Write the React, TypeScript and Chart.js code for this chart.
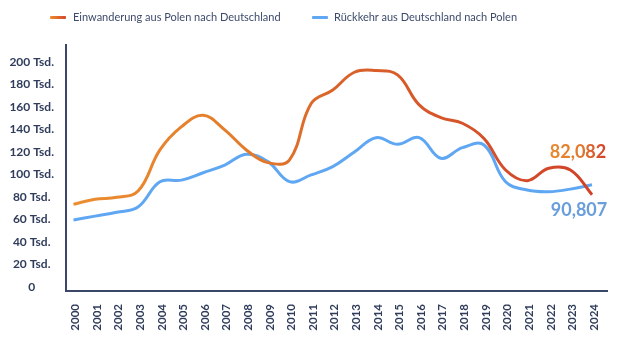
import React, { useEffect, useRef } from 'react';
import { Chart, registerables } from 'chart.js';

Chart.register(...registerables);

// ---- Data (values in thousands) ----
const YEARS = [2000, 2001, 2002, 2003, 2004, 2005, 2006, 2007, 2008, 2009, 2010, 2011, 2012, 2013, 2014, 2015, 2016, 2017, 2018, 2019, 2020, 2021, 2022, 2023, 2024];
const IMMIGRATION = [73.5, 78, 79.7, 85.5, 121.8, 142.5, 152.5, 139.6, 121.8, 110.5, 113, 163, 175, 190.8, 192.3, 188.4, 161.8, 150.5, 145.5, 132, 104, 94.5, 105.5, 104, 82.082];
const RETURN_MIGRATION = [59.6, 63, 66.4, 71.4, 93.6, 95, 101.5, 108.4, 118, 111.4, 93.6, 99.6, 107, 120, 132.7, 126.8, 132.7, 114.4, 123.8, 126.2, 93.6, 86.2, 84.7, 87, 90.807];
const SERIES_NAMES = ['Einwanderung aus Polen nach Deutschland', 'Rückkehr aus Deutschland nach Polen'];
const Y_TICKS = [0, 20, 40, 60, 80, 100, 120, 140, 160, 180, 200];
const Y_UNIT = 'Tsd.';

const FONT = 'Lato, "Open Sans", sans-serif';
const AXIS_TEXT = '#2f3c5c';
const AXIS_LINE = '#3a4768';
const BLUE = '#5fa7f3';
const BLUE_LABEL = '#6a9edb';

function orangeGradient(ctx: CanvasRenderingContext2D, x0: number, x1: number) {
  const g = ctx.createLinearGradient(x0, 0, x1, 0);
  g.addColorStop(0, '#ec8e30');
  g.addColorStop(0.35, '#e27a2b');
  g.addColorStop(0.5, '#da6329');
  g.addColorStop(1, '#d0402a');
  return g;
}

const endLabels = {
  id: 'endLabels',
  afterDatasetsDraw(chart: any) {
    const ctx = chart.ctx as CanvasRenderingContext2D;
    const offsets = [
      { dx: -14, dy: -42 },
      { dx: -13, dy: 25 },
    ];
    chart.data.datasets.forEach((ds: any, i: number) => {
      const meta = chart.getDatasetMeta(i);
      const pt = meta.data[meta.data.length - 1];
      if (!pt) return;
      const v = ds.data[ds.data.length - 1].y as number;
      const text = Math.round(v * 1000).toLocaleString('en-US');
      const x = pt.x + offsets[i].dx;
      const y = pt.y + offsets[i].dy;
      ctx.save();
      ctx.font = `bold 18px ${FONT}`;
      ctx.textAlign = 'center';
      ctx.textBaseline = 'middle';
      if (i === 0) {
        const w = ctx.measureText(text).width;
        const g = ctx.createLinearGradient(x - w / 2, 0, x + w / 2, 0);
        g.addColorStop(0, '#e98a30');
        g.addColorStop(0.55, '#e2782c');
        g.addColorStop(1, '#d2412b');
        ctx.fillStyle = g;
      } else {
        ctx.fillStyle = BLUE_LABEL;
      }
      ctx.fillText(text, x, y);
      ctx.restore();
    });
  },
};

export default function App() {
  const canvasRef = useRef<HTMLCanvasElement | null>(null);

  useEffect(() => {
    document.body.style.margin = '0';
    const canvas = canvasRef.current;
    if (!canvas) return;
    const chart = new Chart(canvas, {
      type: 'line',
      data: {
        datasets: [
          {
            label: SERIES_NAMES[0],
            data: YEARS.map((y, i) => ({ x: y, y: IMMIGRATION[i] })),
            borderColor: (c: any) => {
              const ca = c.chart.chartArea;
              if (!ca) return '#e27a2b';
              return orangeGradient(c.chart.ctx, ca.left, ca.right);
            },
            borderWidth: 3,
            pointRadius: 0,
            tension: 0.4,
            fill: false,
          },
          {
            label: SERIES_NAMES[1],
            data: YEARS.map((y, i) => ({ x: y, y: RETURN_MIGRATION[i] })),
            borderColor: BLUE,
            borderWidth: 3,
            pointRadius: 0,
            tension: 0.4,
            fill: false,
          },
        ],
      },
      options: {
        animation: false,
        responsive: false,
        devicePixelRatio: 1,
        layout: { padding: { top: 45, left: 4, right: 13, bottom: 0 } },
        plugins: {
          legend: { display: false },
          tooltip: { enabled: false },
        },
        scales: {
          x: {
            type: 'linear',
            min: 1999.653,
            max: 2024.694,
            afterBuildTicks: (s: any) => {
              s.ticks = YEARS.map((v) => ({ value: v }));
            },
            afterFit: (s: any) => {
              s.height = 55;
            },
            grid: { display: false, drawTicks: false },
            border: { display: true, color: AXIS_LINE, width: 2 },
            ticks: {
              autoSkip: false,
              minRotation: 90,
              maxRotation: 90,
              padding: 13,
              labelOffset: 2,
              color: AXIS_TEXT,
              font: { family: FONT, size: 11.5, weight: 'bold' },
              callback: (v: any) => String(v),
            },
          },
          y: {
            type: 'linear',
            min: -3.5,
            max: 215,
            afterBuildTicks: (s: any) => {
              s.ticks = Y_TICKS.map((v) => ({ value: v }));
            },
            afterFit: (s: any) => {
              s.width = 62;
            },
            grid: { display: false, drawTicks: false },
            border: { display: true, color: AXIS_LINE, width: 2 },
            ticks: {
              padding: 12,
              crossAlign: 'center',
              color: AXIS_TEXT,
              font: { family: FONT, size: 12, weight: 'bold' },
              callback: (v: any) => (v === 0 ? '0' : `${v} ${Y_UNIT}`),
            },
          },
        },
      },
      plugins: [endLabels],
    } as any);
    return () => chart.destroy();
  }, []);

  const legendText: React.CSSProperties = {
    position: 'absolute',
    top: 9,
    fontFamily: FONT,
    fontSize: 11,
    color: '#3d4a6b',
    lineHeight: '16px',
    whiteSpace: 'nowrap',
  };
  const swatch: React.CSSProperties = {
    position: 'absolute',
    top: 16,
    width: 16,
    height: 3,
    borderRadius: 1,
  };

  return (
    <div style={{ position: 'relative', width: 620, height: 346, background: '#ffffff' }}>
      <canvas ref={canvasRef} width={620} height={346} style={{ display: 'block' }} />
      <div style={{ ...swatch, left: 50, background: 'linear-gradient(90deg, #ec8e30, #d4452a)' }} />
      <div style={{ ...legendText, left: 73 }}>{SERIES_NAMES[0]}</div>
      <div style={{ ...swatch, left: 312, background: BLUE }} />
      <div style={{ ...legendText, left: 334 }}>{SERIES_NAMES[1]}</div>
    </div>
  );
}
